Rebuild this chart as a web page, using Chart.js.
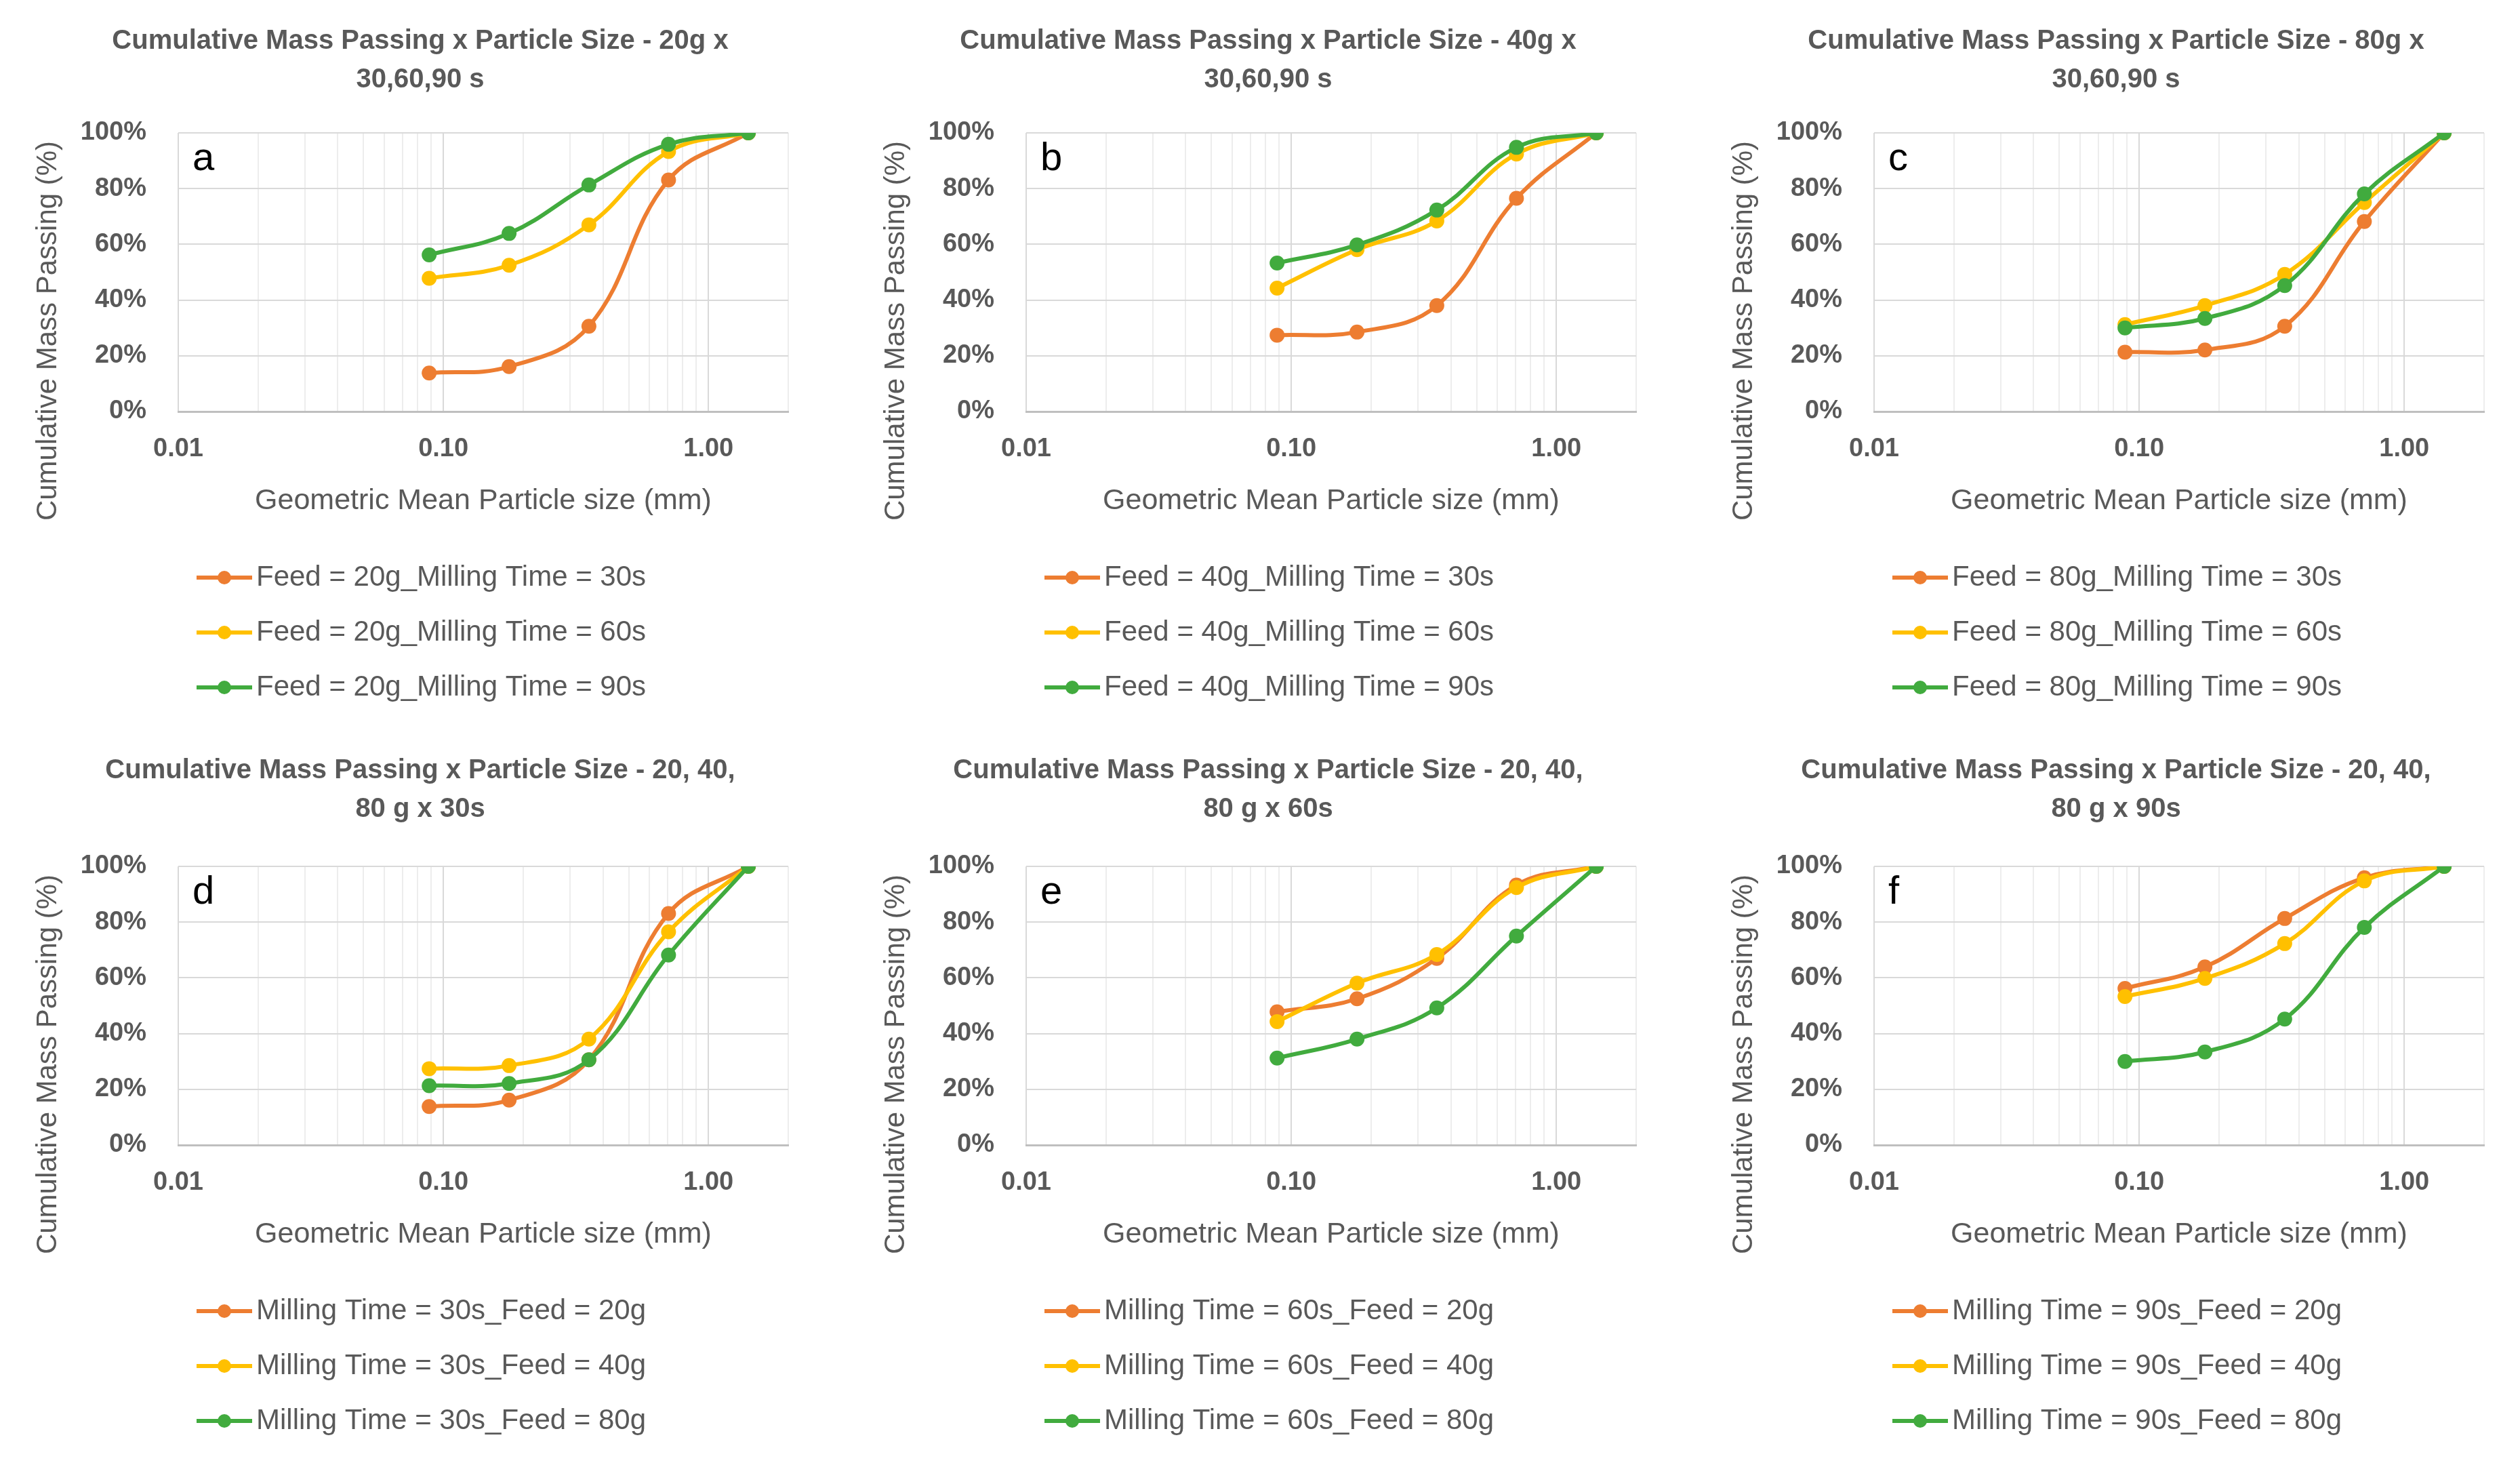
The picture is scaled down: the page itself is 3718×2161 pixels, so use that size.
<!DOCTYPE html>
<html>
<head>
<meta charset="utf-8">
<script src="https://cdn.jsdelivr.net/npm/chart.js@4.4.1/dist/chart.umd.min.js"></script>
<style>
  html, body { margin: 0; padding: 0; background: #fff; width: 3718px; height: 2161px; overflow: hidden; }
  canvas { position: absolute; }
</style>
</head>
<body>
<canvas id="chartA" width="1240" height="1082" style="left:0px;top:0px"></canvas>
<canvas id="chartB" width="1240" height="1082" style="left:1251px;top:0px"></canvas>
<canvas id="chartC" width="1240" height="1082" style="left:2502px;top:0px"></canvas>
<canvas id="chartD" width="1240" height="1079" style="left:0px;top:1082px"></canvas>
<canvas id="chartE" width="1240" height="1079" style="left:1251px;top:1082px"></canvas>
<canvas id="chartF" width="1240" height="1079" style="left:2502px;top:1082px"></canvas>
<script>
// geometric mean particle size of each sieve fraction (mm)
const sizes = [0.0884, 0.177, 0.354, 0.707, 1.414];
const xTickLabels = [0.01, 0.1, 1];
const yTicks = [0, 20, 40, 60, 80, 100];

// cumulative mass passing (%) - feed mass x milling time
const feed20_30s = [13.8, 16.1, 30.6, 83.1, 100];
const feed20_60s = [47.8, 52.5, 67.0, 93.3, 100];
const feed20_90s = [56.2, 63.9, 81.3, 95.9, 100];
const feed40_30s = [27.4, 28.5, 38.0, 76.5, 100];
const feed40_60s = [44.3, 58.1, 68.4, 92.4, 100];
const feed40_90s = [53.3, 59.8, 72.3, 94.8, 100];
const feed80_30s = [21.3, 22.1, 30.6, 68.2, 100];
const feed80_60s = [31.2, 38.0, 49.2, 75.0, 100];
const feed80_90s = [30.0, 33.4, 45.2, 78.1, 100];

const ORANGE = '#ED7D31', YELLOW = '#FFC000', GREEN = '#41AB3E';
const TXT = '#595959';
const FAM = '"Liberation Sans", Arial, sans-serif';

// minor + major vertical gridlines of the log axis (1..9 per decade, up to max 2)
const X_MAX = 2;
const gridValues = [];
xTickLabels.forEach(d => {
    for (let k = 1; k <= 9; k++) {
        const v = +(k * d).toFixed(4);
        if (v <= X_MAX) gridValues.push(v);
    }
});
const isMajor = v => xTickLabels.some(m => Math.abs(m - v) < 1e-9);

// titles, axis titles, panel letter and the vertical legend
const panelText = {
    id: 'panelText',
    afterDraw(chart, args, opts) {
        const ctx = chart.ctx, a = chart.chartArea;
        ctx.save();
        ctx.fillStyle = TXT;
        ctx.textAlign = 'center';
        ctx.textBaseline = 'middle';
        ctx.font = 'bold 40px ' + FAM;
        opts.title.forEach((t, i) => ctx.fillText(t, 620, opts.titleY + i * 57));

        ctx.font = '43px ' + FAM;
        ctx.fillText('Geometric Mean Particle size (mm)', (a.left + a.right) / 2, 739);
        ctx.save();
        ctx.translate(71, 488);
        ctx.rotate(-Math.PI / 2);
        ctx.font = '42px ' + FAM;
        ctx.fillText('Cumulative Mass Passing (%)', 0, 0);
        ctx.restore();

        ctx.fillStyle = '#000';
        ctx.textAlign = 'left';
        ctx.textBaseline = 'alphabetic';
        ctx.font = '58px ' + FAM;
        ctx.fillText(opts.letter, 284, 251);

        chart.data.datasets.forEach((ds, i) => {
            const y = 852 + i * 81;
            ctx.strokeStyle = ds.borderColor;
            ctx.lineWidth = 6;
            ctx.beginPath();
            ctx.moveTo(290, y);
            ctx.lineTo(372, y);
            ctx.stroke();
            ctx.fillStyle = ds.borderColor;
            ctx.beginPath();
            ctx.arc(331, y, 10, 0, Math.PI * 2);
            ctx.fill();
            ctx.fillStyle = TXT;
            ctx.textBaseline = 'middle';
            ctx.font = '42px ' + FAM;
            ctx.fillText(ds.label, 378, y);
        });
        ctx.restore();
    }
};

function series(label, values, color, i) {
    return {
        label,
        data: values.map((y, k) => ({ x: sizes[k], y })),
        borderColor: color,
        backgroundColor: color,
        pointBackgroundColor: color,
        pointBorderColor: color,
        pointBorderWidth: 0,
        pointRadius: 11,
        borderWidth: 6,
        tension: 0.4,
        order: 2 - i
    };
}

function drawPanel(id, letter, title, labels, dataList) {
    const canvas = document.getElementById(id);
    const colors = [ORANGE, YELLOW, GREEN];
    const titleY = canvas.offsetTop > 0 ? 55 : 61;
    new Chart(canvas, {
        type: 'line',
        data: { datasets: dataList.map((d, i) => series(labels[i], d, colors[i], i)) },
        options: {
            responsive: false,
            animation: false,
            devicePixelRatio: 1,
            layout: { padding: { top: 196, right: 77, left: 0, bottom: 0 } },
            plugins: {
                legend: { display: false },
                tooltip: { enabled: false },
                panelText: { letter, title, titleY }
            },
            scales: {
                x: {
                    type: 'logarithmic',
                    min: 0.01,
                    max: X_MAX,
                    afterBuildTicks: s => { s.ticks = gridValues.map(v => ({ value: v })); },
                    afterFit: s => { s.height = canvas.height - 607; },
                    grid: {
                        color: c => (c.tick && isMajor(c.tick.value)) ? '#d9d9d9' : '#ededed',
                        lineWidth: 2,
                        drawTicks: false
                    },
                    border: { color: '#bfbfbf', width: 3 },
                    ticks: {
                        autoSkip: false,
                        maxRotation: 0,
                        padding: 33,
                        color: TXT,
                        font: { family: FAM, size: 38, weight: 'bold' },
                        callback: v => isMajor(v) ? v.toFixed(2) : ''
                    }
                },
                y: {
                    min: 0,
                    max: 100,
                    afterBuildTicks: s => { s.ticks = yTicks.map(v => ({ value: v })); },
                    afterFit: s => { s.width = 263; },
                    grid: { color: '#d9d9d9', lineWidth: 2, drawTicks: false },
                    border: { display: false },
                    ticks: {
                        padding: 47,
                        color: TXT,
                        font: { family: FAM, size: 38, weight: 'bold' },
                        callback: v => v + '%'
                    }
                }
            }
        },
        plugins: [panelText]
    });
}

const T1 = 'Cumulative Mass Passing x Particle Size - ';
drawPanel('chartA', 'a', [T1 + '20g x', '30,60,90 s'],
    ['Feed = 20g_Milling Time = 30s', 'Feed = 20g_Milling Time = 60s', 'Feed = 20g_Milling Time = 90s'],
    [feed20_30s, feed20_60s, feed20_90s]);
drawPanel('chartB', 'b', [T1 + '40g x', '30,60,90 s'],
    ['Feed = 40g_Milling Time = 30s', 'Feed = 40g_Milling Time = 60s', 'Feed = 40g_Milling Time = 90s'],
    [feed40_30s, feed40_60s, feed40_90s]);
drawPanel('chartC', 'c', [T1 + '80g x', '30,60,90 s'],
    ['Feed = 80g_Milling Time = 30s', 'Feed = 80g_Milling Time = 60s', 'Feed = 80g_Milling Time = 90s'],
    [feed80_30s, feed80_60s, feed80_90s]);
drawPanel('chartD', 'd', [T1 + '20, 40,', '80 g x 30s'],
    ['Milling Time = 30s_Feed = 20g', 'Milling Time = 30s_Feed = 40g', 'Milling Time = 30s_Feed = 80g'],
    [feed20_30s, feed40_30s, feed80_30s]);
drawPanel('chartE', 'e', [T1 + '20, 40,', '80 g x 60s'],
    ['Milling Time = 60s_Feed = 20g', 'Milling Time = 60s_Feed = 40g', 'Milling Time = 60s_Feed = 80g'],
    [feed20_60s, feed40_60s, feed80_60s]);
drawPanel('chartF', 'f', [T1 + '20, 40,', '80 g x 90s'],
    ['Milling Time = 90s_Feed = 20g', 'Milling Time = 90s_Feed = 40g', 'Milling Time = 90s_Feed = 80g'],
    [feed20_90s, feed40_90s, feed80_90s]);
</script>
</body>
</html>
